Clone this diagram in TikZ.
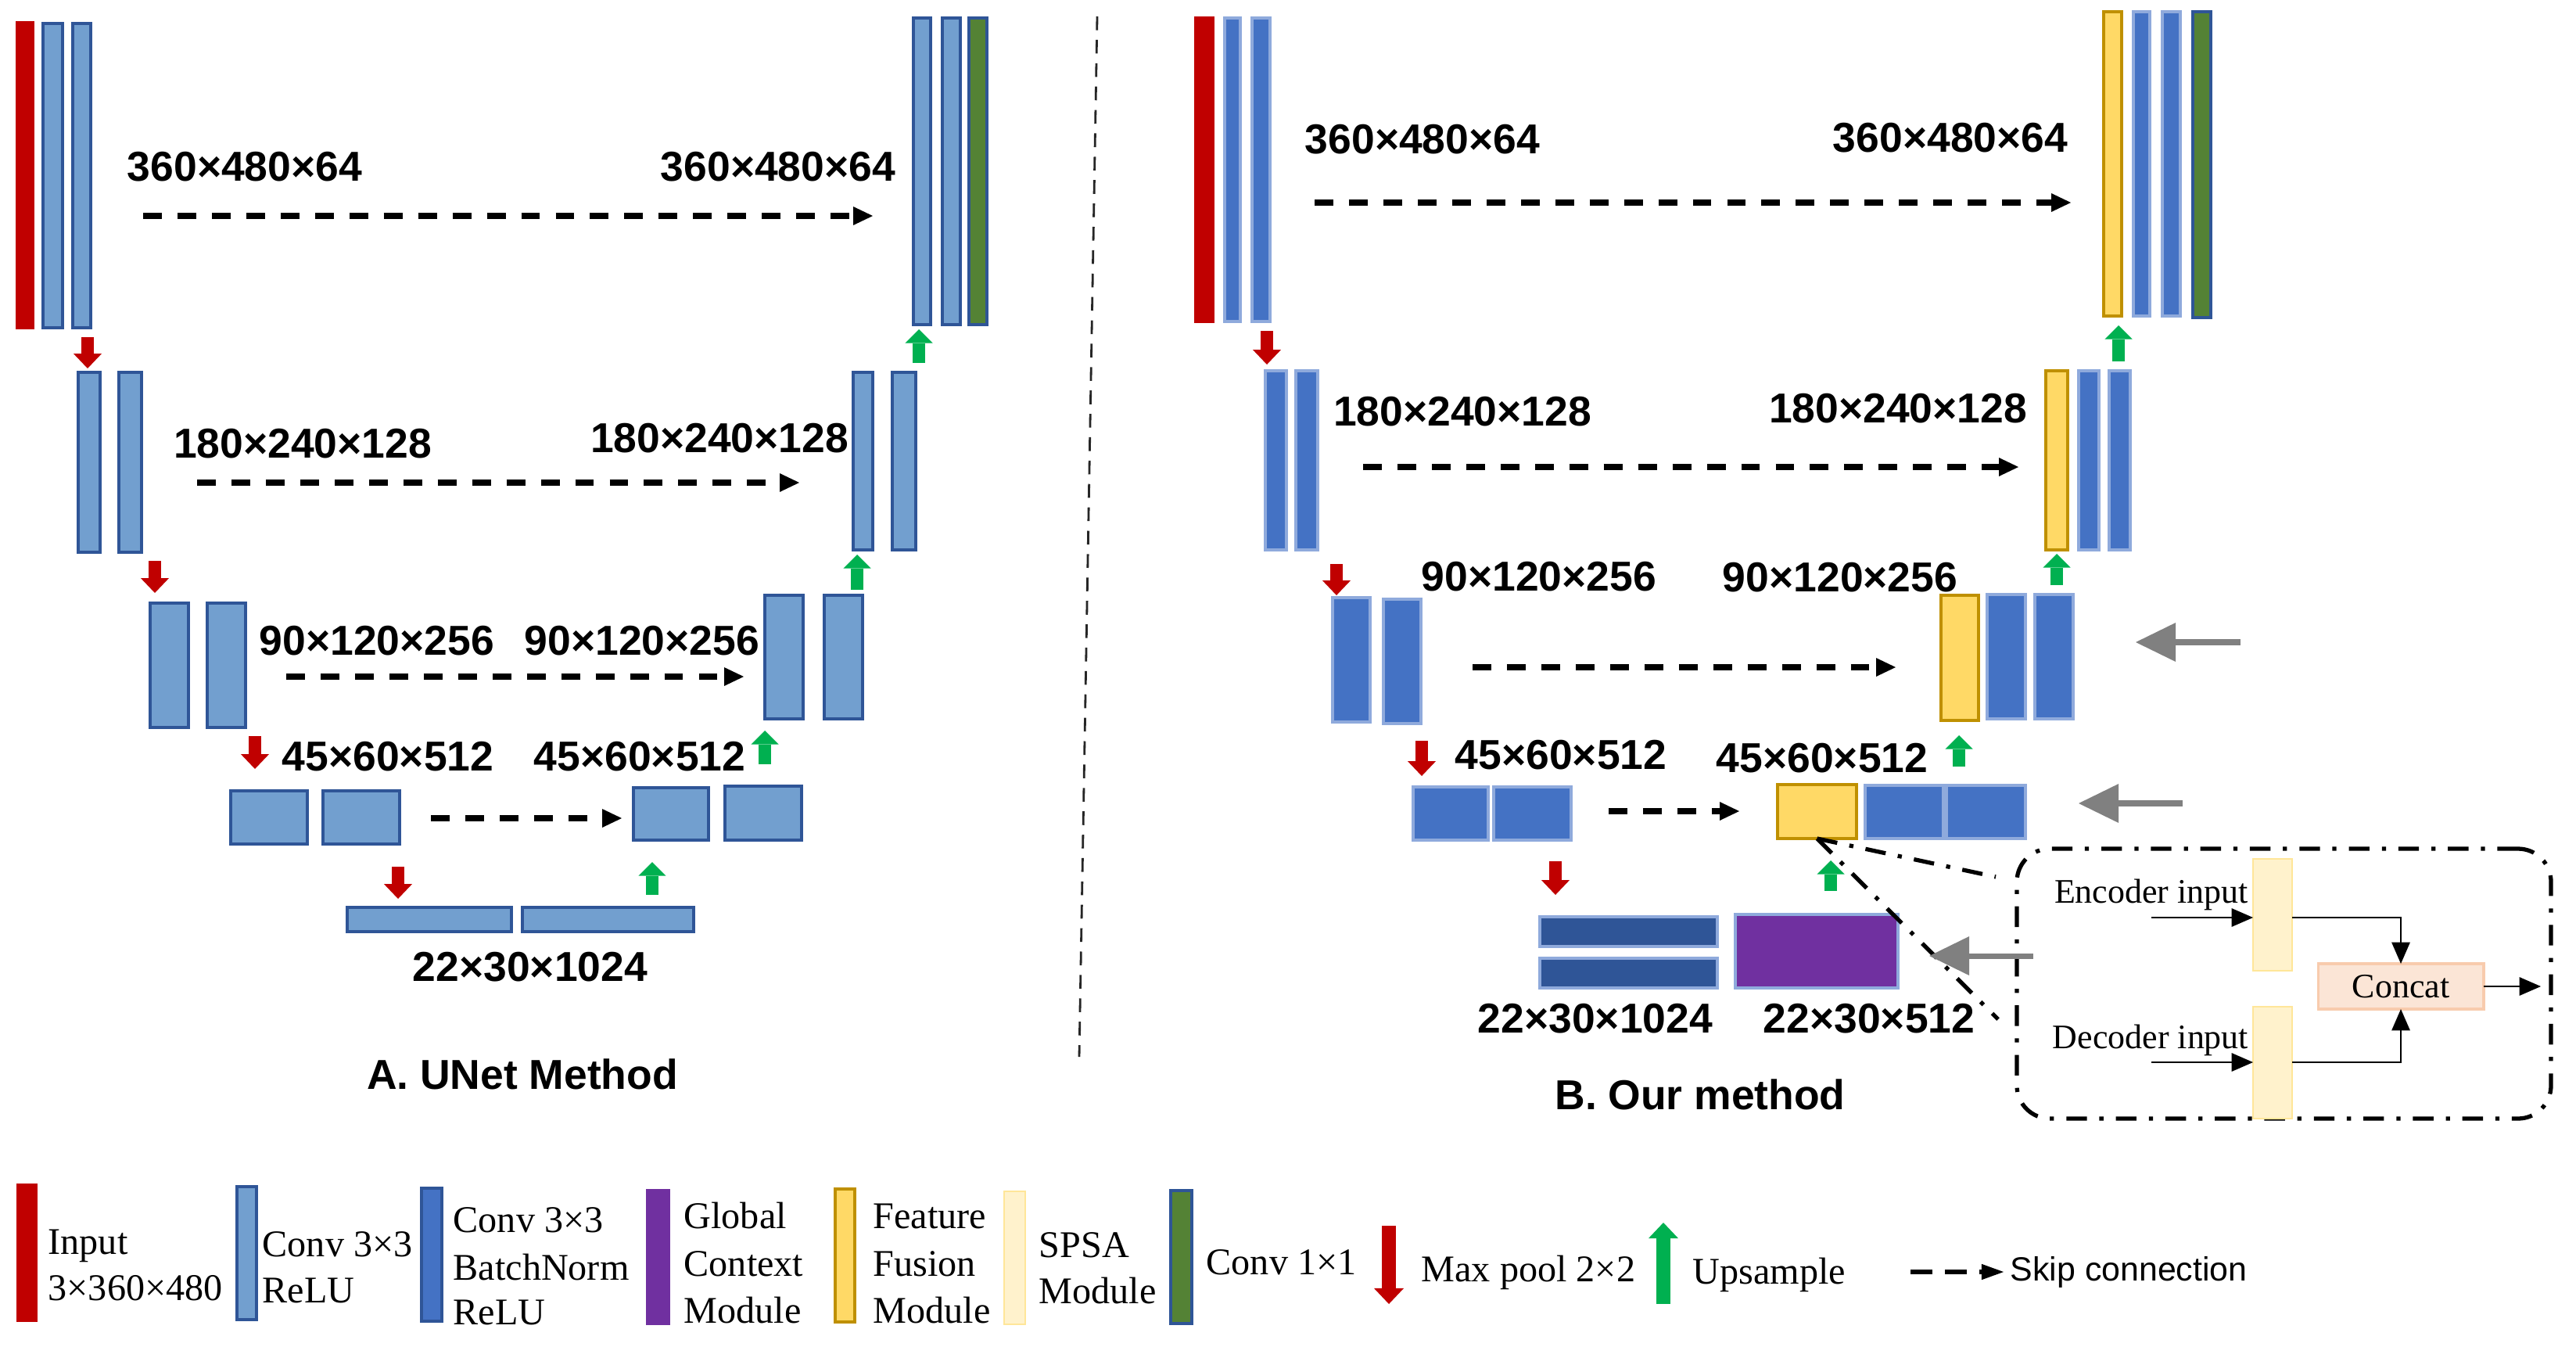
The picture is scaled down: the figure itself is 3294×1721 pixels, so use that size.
\documentclass[tikz,border=0pt]{standalone}
\usepackage{fontspec}
\setmainfont{Liberation Serif}
\setsansfont{Liberation Sans}
\usetikzlibrary{arrows.meta,fit}
\definecolor{cred}{HTML}{C00000}
\definecolor{cgreen}{HTML}{00B050}
\definecolor{lbfill}{HTML}{729FCF}
\definecolor{lbdraw}{HTML}{2F5597}
\definecolor{bnfill}{HTML}{4472C4}
\definecolor{bndraw}{HTML}{8FAADC}
\definecolor{dkfill}{HTML}{2F5597}
\definecolor{pufill}{HTML}{7030A0}
\definecolor{yefill}{HTML}{FFD966}
\definecolor{yedraw}{HTML}{BF9000}
\definecolor{lyfill}{HTML}{FFF2CC}
\definecolor{lydraw}{HTML}{FFE699}
\definecolor{gnfill}{HTML}{548235}
\definecolor{cofill}{HTML}{FBE5D6}
\definecolor{codraw}{HTML}{F8CBAD}
\definecolor{cgray}{HTML}{808080}
\begin{document}
\begin{tikzpicture}[x=0.01cm,y=-0.01cm,
 blkbase/.style={inner sep=0pt, outer sep=0pt, line width=1.1pt},
 inb/.style={blkbase, fill=cred, draw=cred},
 lbb/.style={blkbase, fill=lbfill, draw=lbdraw},
 bnb/.style={blkbase, fill=bnfill, draw=bndraw},
 dkb/.style={blkbase, fill=dkfill, draw=bndraw},
 pub/.style={blkbase, fill=pufill, draw=bndraw},
 yeb/.style={blkbase, fill=yefill, draw=yedraw},
 lyb/.style={blkbase, fill=lyfill, draw=lydraw, line width=0.7pt},
 gnb/.style={blkbase, fill=gnfill, draw=lbdraw},
 dim/.style={font=\fontsize{15.2}{18}\selectfont\sffamily\bfseries, inner sep=0pt, text height=0.72em, text depth=0pt},
 lgt/.style={font=\fontsize{13.7}{16}\selectfont, inner sep=0pt, text height=0.66em, text depth=0pt, anchor=west},
 ist/.style={font=\fontsize{12.5}{15}\selectfont, inner sep=0pt, text height=0.66em, text depth=0pt},
 skip/.style={line width=2pt, dash pattern=on 6.8pt off 5.7pt, -{Triangle[length=7.1pt,width=6.8pt,line width=0pt]}},
 poolarr/.style={cred, line width=4.5pt, -{Triangle[length=5.4pt,width=10.3pt,line width=0pt]}},
 uparr/.style={cgreen, line width=4.5pt, -{Triangle[length=5pt,width=10pt,line width=0pt]}},
 grayarr/.style={cgray, line width=2pt, -{Triangle[length=14.5pt,width=14.2pt,line width=0pt]}},
 dashdot/.style={line width=1.5pt, dash pattern=on 7.5pt off 4.5pt on 1.5pt off 4.5pt},
 iarr/.style={line width=0.8pt, -{Triangle[length=7.8pt,width=6.8pt,line width=0pt]}},
]
\useasboundingbox (0,0) rectangle (3294,1721);

% ---------------- Panel A ----------------
\node[inb, fit={(22,29)(42,419)}] (ain) {};
\node[lbb, fit={(55,30)(80,419)}] (a1) {};
\node[lbb, fit={(93,30)(116,419)}] (a2) {};
\node[lbb, fit={(1168,23)(1190,415)}] (ao1) {};
\node[lbb, fit={(1205,23)(1228,415)}] (ao2) {};
\node[gnb, fit={(1239,23)(1262,415)}] (ao3) {};
\node[lbb, fit={(100,476)(128,706)}] (ae2a) {};
\node[lbb, fit={(152,476)(181,706)}] (ae2b) {};
\node[lbb, fit={(1091,476)(1116,703)}] (ad2a) {};
\node[lbb, fit={(1141,476)(1171,703)}] (ad2b) {};
\node[lbb, fit={(192,771)(241,930)}] (ae3a) {};
\node[lbb, fit={(265,771)(314,930)}] (ae3b) {};
\node[lbb, fit={(978,761)(1027,919)}] (ad3a) {};
\node[lbb, fit={(1054,761)(1103,919)}] (ad3b) {};
\node[lbb, fit={(295,1011)(393,1079)}] (ae4a) {};
\node[lbb, fit={(413,1011)(511,1079)}] (ae4b) {};
\node[lbb, fit={(810,1007)(906,1074)}] (ad4a) {};
\node[lbb, fit={(927,1005)(1025,1074)}] (ad4b) {};
\node[lbb, fit={(444,1160)(654,1191)}] (ab1) {};
\node[lbb, fit={(668,1160)(887,1191)}] (ab2) {};

\node[dim] (at1) at (313,219) {360×480×64};
\node[dim] (at2) at (995,219) {360×480×64};
\node[dim] (at3) at (387,573) {180×240×128};
\node[dim] (at4) at (920,566) {180×240×128};
\node[dim] (at5) at (482,825) {90×120×256};
\node[dim] (at6) at (821,825) {90×120×256};
\node[dim] (at7) at (496,973) {45×60×512};
\node[dim] (at8) at (818,973) {45×60×512};
\node[dim] (at9) at (678,1242) {22×30×1024};
\node[dim] (atitle) at (668,1380) {A. UNet Method};

\coordinate (as1a) at (183,276);  \coordinate (as1b) at (1116,276);
\coordinate (as2a) at (252,617);  \coordinate (as2b) at (1022,617);
\coordinate (as3a) at (366,865);  \coordinate (as3b) at (951,865);
\coordinate (as4a) at (551,1046); \coordinate (as4b) at (795,1046);
\draw[skip] (as1a) -- (as1b);
\draw[skip] (as2a) -- (as2b);
\draw[skip] (as3a) -- (as3b);
\draw[skip] (as4a) -- (as4b);

\draw[poolarr] (112,431) -- (112,471);
\draw[poolarr] (198,717) -- (198,758);
\draw[poolarr] (326,941) -- (326,983);
\draw[poolarr] (509,1108) -- (509,1149);
\draw[uparr] (1175,464) -- (1175,421);
\draw[uparr] (1096,754) -- (1096,709);
\draw[uparr] (978,977) -- (978,934);
\draw[uparr] (834,1144) -- (834,1102);

% divider
\coordinate (dv1) at (1403,21); \coordinate (dv2) at (1380,1351);
\draw[line width=0.8pt, dash pattern=on 5pt off 3.5pt, black!85] (dv1) -- (dv2);

% ---------------- Panel B ----------------
\node[inb, fit={(1529,23)(1551,411)}] (bin) {};
\node[bnb, fit={(1566,23)(1586,411)}] (b1) {};
\node[bnb, fit={(1601,23)(1624,411)}] (b2) {};
\node[yeb, fit={(2690,15)(2713,404)}] (bo0) {};
\node[bnb, fit={(2728,15)(2749,404)}] (bo1) {};
\node[bnb, fit={(2765,15)(2788,404)}] (bo2) {};
\node[gnb, fit={(2804,15)(2827,406)}] (bo3) {};
\node[bnb, fit={(1618,474)(1645,703)}] (be2a) {};
\node[bnb, fit={(1657,474)(1685,703)}] (be2b) {};
\node[yeb, fit={(2616,474)(2644,703)}] (bd2y) {};
\node[bnb, fit={(2658,474)(2684,703)}] (bd2a) {};
\node[bnb, fit={(2697,474)(2724,703)}] (bd2b) {};
\node[bnb, fit={(1704,764)(1752,923)}] (be3a) {};
\node[bnb, fit={(1769,766)(1817,925)}] (be3b) {};
\node[yeb, fit={(2482,761)(2530,921)}] (bd3y) {};
\node[bnb, fit={(2541,760)(2590,919)}] (bd3a) {};
\node[bnb, fit={(2602,760)(2651,919)}] (bd3b) {};
\node[bnb, fit={(1807,1006)(1903,1074)}] (be4a) {};
\node[bnb, fit={(1910,1006)(2009,1074)}] (be4b) {};
\node[yeb, fit={(2273,1003)(2374,1072)}] (bd4y) {};
\node[bnb, fit={(2385,1004)(2485,1072)}] (bd4a) {};
\node[bnb, fit={(2489,1004)(2590,1072)}] (bd4b) {};
\node[dkb, fit={(1969,1172)(2196,1210)}] (bb1) {};
\node[dkb, fit={(1969,1225)(2196,1263)}] (bb2) {};
\node[pub, fit={(2219,1169)(2427,1263)}] (bgc) {};

\node[dim] (bt1) at (1819,184) {360×480×64};
\node[dim] (bt2) at (2494,182) {360×480×64};
\node[dim] (bt3) at (1870,532) {180×240×128};
\node[dim] (bt4) at (2427,528) {180×240×128};
\node[dim] (bt5) at (1968,743) {90×120×256};
\node[dim] (bt6) at (2353,744) {90×120×256};
\node[dim] (bt7) at (1996,971) {45×60×512};
\node[dim] (bt8) at (2330,975) {45×60×512};
\node[dim] (bt9) at (2040,1308) {22×30×1024};
\node[dim] (bt10) at (2390,1308) {22×30×512};
\node[dim] (btitle) at (2174,1406) {B. Our method};

\coordinate (bs1a) at (1681,259);  \coordinate (bs1b) at (2648,259);
\coordinate (bs2a) at (1743,597);  \coordinate (bs2b) at (2581,597);
\coordinate (bs3a) at (1883,853);  \coordinate (bs3b) at (2424,853);
\coordinate (bs4a) at (2057,1037); \coordinate (bs4b) at (2224,1037);
\draw[skip] (bs1a) -- (bs1b);
\draw[skip] (bs2a) -- (bs2b);
\draw[skip] (bs3a) -- (bs3b);
\draw[skip] (bs4a) -- (bs4b);

\draw[poolarr] (1620,423) -- (1620,466);
\draw[poolarr] (1709,721) -- (1709,761);
\draw[poolarr] (1818,947) -- (1818,992);
\draw[poolarr] (1989,1101) -- (1989,1144);
\draw[uparr] (2709,462) -- (2709,416);
\draw[uparr] (2630,748) -- (2630,708);
\draw[uparr] (2505,980) -- (2505,940);
\draw[uparr] (2341,1139) -- (2341,1100);

\coordinate (gr1a) at (2865,821);  \coordinate (gr1b) at (2731,821);
\coordinate (gr2a) at (2791,1027); \coordinate (gr2b) at (2658,1027);
\coordinate (gr3a) at (2600,1222); \coordinate (gr3b) at (2467,1222);
\draw[grayarr] (gr1a) -- (gr1b);
\draw[grayarr] (gr2a) -- (gr2b);

% inset
\node[draw, dashdot, rounded corners=12pt, inner sep=0pt, fit={(2579,1085)(3262,1430)}] (inset) {};
\coordinate (zm1) at (2552,1121);
\coordinate (zm2) at (2555,1303);
\draw[dashdot] (bd4y.south) -- (zm1);
\draw[dashdot] (bd4y.south) -- (zm2);
\draw[grayarr] (gr3a) -- (gr3b);

\node[lyb, fit={(2881,1098)(2931,1241)}] (spsa1) {};
\node[lyb, fit={(2881,1287)(2931,1430)}] (spsa2) {};
\node[blkbase, fill=cofill, draw=codraw, minimum width=2.11cm, minimum height=0.58cm, ist, text height=0.8em] (concat) at (3070,1261) {Concat};
\node[ist] (enct) at (2751,1143) {Encoder input};
\node[ist] (dect) at (2750,1329) {Decoder input};
\coordinate (ein) at (2751,1173);
\coordinate (din) at (2751,1358);
\coordinate (cout) at (3249,1261);
\draw[iarr] (ein) -- (ein -| spsa1.west);
\draw[iarr] (din) -- (din -| spsa2.west);
\draw[iarr] (spsa1.east |- ein) -| (concat.north);
\draw[iarr] (spsa2.east |- din) -| (concat.south);
\draw[iarr] (concat.east) -- (cout);

% ---------------- Legend ----------------
\node[inb, fit={(23,1515)(46,1688)}] (lg1) {};
\node[lbb, fit={(303,1517)(328,1687)}] (lg2) {};
\node[bnb, draw=lbdraw, fit={(539,1519)(565,1689)}] (lg3) {};
\node[pub, draw=pufill, fit={(828,1522)(855,1692)}] (lg4) {};
\node[yeb, fit={(1068,1520)(1093,1690)}] (lg5) {};
\node[lyb, fit={(1284,1523)(1311,1693)}] (lg6) {};
\node[gnb, fit={(1497,1522)(1524,1692)}] (lg7) {};

\node[lgt] (l1a) at (61,1592) {Input};
\node[lgt] (l1b) at (61,1651) {3×360×480};
\node[lgt] (l2a) at (335,1595) {Conv 3×3};
\node[lgt] (l2b) at (335,1654) {ReLU};
\node[lgt] (l3a) at (579,1564) {Conv 3×3};
\node[lgt] (l3b) at (579,1625) {BatchNorm};
\node[lgt] (l3c) at (579,1682) {ReLU};
\node[lgt] (l4a) at (874,1559) {Global};
\node[lgt] (l4b) at (874,1620) {Context};
\node[lgt] (l4c) at (874,1680) {Module};
\node[lgt] (l5a) at (1116,1559) {Feature};
\node[lgt] (l5b) at (1116,1620) {Fusion};
\node[lgt] (l5c) at (1116,1680) {Module};
\node[lgt] (l6a) at (1328,1596) {SPSA};
\node[lgt] (l6b) at (1328,1655) {Module};
\node[lgt] (l7a) at (1542,1618) {Conv 1×1};

\draw[cred, line width=5.1pt, -{Triangle[length=5.7pt,width=10.8pt,line width=0pt]}] (1776,1567) -- (1776,1667);
\node[lgt] (l8a) at (1817,1627) {Max pool 2×2};
\draw[cgreen, line width=5.1pt, -{Triangle[length=5.7pt,width=10.8pt,line width=0pt]}] (2127,1667) -- (2127,1563);
\node[lgt] (l9a) at (2164,1630) {Upsample};
\coordinate (lska) at (2443,1626); \coordinate (lskb) at (2562,1626);
\draw[line width=1.7pt, dash pattern=on 8pt off 4.5pt, -{Triangle[length=8pt,width=5.8pt,line width=0pt]}] (lska) -- (lskb);
\node[font=\fontsize{12.2}{15}\selectfont\sffamily, inner sep=0pt, text height=0.72em, text depth=0pt, anchor=west] (l10a) at (2570,1625) {Skip connection};
\end{tikzpicture}
\end{document}
